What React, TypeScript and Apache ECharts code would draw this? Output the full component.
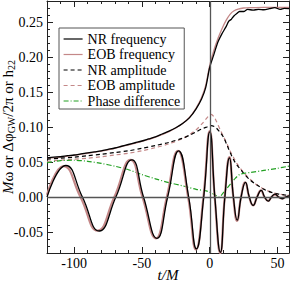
import React, { useEffect, useRef } from "react";
import * as echarts from "echarts";

const legendNames = ["NR frequency", "EOB frequency", "NR amplitude", "EOB amplitude", "Phase difference"];

const xMajorTicks = [-100, -50, 0, 50];
const xMinorTicks = [-110, -100, -90, -80, -70, -60, -50, -40, -30, -20, -10, 0, 10, 20, 30, 40, 50];
const yMajorTicks = [-0.05, 0, 0.05, 0.1, 0.15, 0.2, 0.25];
const yMinorTicks = [
  -0.07, -0.06, -0.05, -0.04, -0.03, -0.02, -0.01, 0, 0.01, 0.02, 0.03, 0.04, 0.05, 0.06, 0.07, 0.08, 0.09,
  0.1, 0.11, 0.12, 0.13, 0.14, 0.15, 0.16, 0.17, 0.18, 0.19, 0.2, 0.21, 0.22, 0.23, 0.24, 0.25, 0.26, 0.27,
];

const freqNR = [
  [-120, 0.056], [-115, 0.057], [-110, 0.0575], [-105, 0.059], [-100, 0.06], [-95, 0.0615], [-90, 0.063],
  [-85, 0.0645], [-80, 0.066], [-75, 0.068], [-70, 0.07], [-65, 0.0725], [-60, 0.075], [-55, 0.0775],
  [-50, 0.08], [-45, 0.083], [-40, 0.086], [-35, 0.09], [-30, 0.094], [-25, 0.099], [-20, 0.105],
  [-15, 0.113], [-10, 0.126], [-6, 0.14], [-3, 0.156], [0, 0.185], [3, 0.203], [6, 0.221], [9, 0.233],
  [12, 0.243], [14, 0.251], [16, 0.254], [18, 0.259], [20, 0.262], [22, 0.265], [25, 0.265], [28, 0.268],
  [32, 0.267], [36, 0.268], [40, 0.2675], [44, 0.269], [48, 0.2705], [52, 0.268], [55, 0.2695], [58.5, 0.269],
];
const freqEOB = [
  [-120, 0.0555], [-110, 0.057], [-100, 0.0595], [-90, 0.0625], [-80, 0.0655], [-70, 0.0695], [-60, 0.0745],
  [-50, 0.0795], [-40, 0.0855], [-30, 0.0935], [-25, 0.0985], [-20, 0.105], [-15, 0.1135], [-10, 0.127],
  [-6, 0.142], [-3, 0.159], [0, 0.188], [3, 0.209], [6, 0.226], [9, 0.24], [12, 0.252], [15, 0.261],
  [18, 0.266], [21, 0.2685], [25, 0.27], [30, 0.2705], [40, 0.271], [50, 0.271], [58.5, 0.271],
];
const ampNR = [
  [-120, 0.054], [-110, 0.0555], [-100, 0.057], [-90, 0.059], [-80, 0.061], [-70, 0.0635], [-60, 0.066],
  [-50, 0.0695], [-40, 0.0735], [-30, 0.078], [-20, 0.084], [-14, 0.089], [-10, 0.093], [-5, 0.098],
  [-2, 0.1], [1, 0.102], [4, 0.1], [7, 0.094], [10, 0.086], [13, 0.073], [15, 0.064], [18, 0.052],
  [20, 0.046], [23, 0.039], [25, 0.034], [30, 0.024], [35, 0.017], [40, 0.011], [45, 0.007], [50, 0.0045],
  [55, 0.003], [58.5, 0.0025],
];
const ampEOB = [
  [-120, 0.051], [-110, 0.0525], [-100, 0.054], [-90, 0.0555], [-80, 0.0575], [-70, 0.06], [-60, 0.0625],
  [-50, 0.066], [-40, 0.0705], [-30, 0.076], [-20, 0.0835], [-15, 0.089], [-10, 0.096], [-5, 0.106],
  [-2, 0.113], [0, 0.117], [1, 0.118], [3, 0.115], [5, 0.108], [8, 0.095], [10, 0.087], [13, 0.075],
  [15, 0.066], [18, 0.055], [20, 0.048], [25, 0.035], [30, 0.025], [35, 0.017], [40, 0.0115], [45, 0.007],
  [50, 0.0045], [55, 0.003], [58.5, 0.0025],
];
const phaseDiff = [
  [-120, 0.049], [-110, 0.052], [-100, 0.0525], [-90, 0.051], [-80, 0.048], [-70, 0.044], [-60, 0.039],
  [-50, 0.032], [-40, 0.026], [-30, 0.0205], [-20, 0.016], [-10, 0.011], [-2, 0.0085], [3, 0.004], [7, 0.0],
  [10, 0.006], [13, 0.013], [16, 0.02], [19, 0.027], [22, 0.032], [26, 0.034], [30, 0.035], [40, 0.038],
  [50, 0.041], [58.5, 0.044],
];
const h22NR = [
  [-120, 0.0], [-106.1, 0.045], [-93.9, 0.0], [-81.5, -0.0486], [-69.2, 0.0], [-57.4, 0.053], [-48.8, 0.0],
  [-38.9, -0.059], [-31.0, 0.0], [-22.9, 0.066], [-15.5, 0.0], [-9.8, -0.074], [-4.4, 0.0], [0.1, 0.093],
  [3.8, 0.0], [7.9, -0.079], [11.2, 0.0], [14.6, 0.056], [17.5, 0.0], [20.3, -0.033], [23.2, 0.0],
  [26.4, 0.021], [29.2, 0.0], [32.1, -0.012], [35.0, 0.0], [38.0, 0.0096], [40.5, 0.0], [43.2, -0.006],
  [45.6, 0.0], [48.2, 0.004], [50.8, 0.0], [53.5, -0.0025], [56.0, 0.0], [58.5, 0.0015],
];
const h22EOB = [
  [-120, 0.003], [-107.8, 0.044], [-95.3, 0.0], [-82.7, -0.048], [-70.3, 0.0], [-58.4, 0.053], [-49.6, 0.0],
  [-39.6, -0.059], [-31.6, 0.0], [-23.4, 0.066], [-15.9, 0.0], [-10.1, -0.075], [-4.6, 0.0], [0.0, 0.094],
  [3.7, 0.0], [7.8, -0.08], [11.1, 0.0], [14.5, 0.057], [17.4, 0.0], [20.2, -0.034], [23.1, 0.0],
  [26.2, 0.021], [29.1, 0.0], [32.0, -0.012], [34.9, 0.0], [37.8, 0.0095], [40.4, 0.0], [43.1, -0.0055],
  [45.6, 0.0], [48.2, 0.0035], [50.8, 0.0], [53.4, -0.002], [56.0, 0.0], [58.5, 0.0012],
];

const SERIF = "Liberation Serif";
const ROSY = "#c48888";
const GREEN = "#22a022";
const XMIN = -120;
const XMAX = 58.5;
const YMIN = -0.08;
const YMAX = 0.28;

function tickAxis(kind: "x" | "y", position: string, values: number[], len: number, showLine: boolean) {
  const base: any = {
    type: "value",
    position,
    min: kind === "x" ? XMIN : YMIN,
    max: kind === "x" ? XMAX : YMAX,
    splitLine: { show: false },
    axisLabel: { show: false },
    axisLine: { show: showLine, onZero: false, lineStyle: { color: "#222", width: 1 } },
    axisTick: { show: true, inside: true, length: len, customValues: values, lineStyle: { color: "#222", width: 1 } },
  };
  return base;
}

export default function App() {
  const ref = useRef<HTMLDivElement>(null);
  useEffect(() => {
    if (!ref.current) return;
    const chart = echarts.init(ref.current, null, { renderer: "svg" });
    const xMain: any = {
      ...tickAxis("x", "bottom", xMajorTicks, 6, true),
      axisLabel: {
        show: true,
        customValues: xMajorTicks,
        fontFamily: SERIF,
        fontSize: 14,
        color: "#000",
        margin: 3,
        formatter: (v: number) => String(v),
      },
      name: "t/M",
      nameLocation: "middle",
      nameGap: 15,
      nameMoveOverlap: false,
      nameTextStyle: { fontFamily: SERIF, fontSize: 15, lineHeight: 13, fontStyle: "italic", color: "#000" },
    };
    const yMain: any = {
      ...tickAxis("y", "left", yMajorTicks, 6, true),
      axisLabel: {
        show: true,
        customValues: yMajorTicks,
        fontFamily: SERIF,
        fontSize: 14,
        color: "#000",
        margin: 4,
        formatter: (v: number) => v.toFixed(2),
      },
      name: "{i|M}ω or Δφ{s|GW}/2π or h{s|22}",
      nameLocation: "middle",
      nameGap: 31,
      nameMoveOverlap: false,
      nameTextStyle: {
        fontFamily: SERIF,
        fontSize: 15,
        color: "#000",
        lineHeight: 17,
        rich: {
          i: { fontFamily: SERIF, fontSize: 15, fontStyle: "italic", color: "#000", lineHeight: 17 },
          s: { fontFamily: SERIF, fontSize: 10, color: "#000", lineHeight: 11, verticalAlign: "bottom" },
        },
      },
    };
    const line = (name: string, data: number[][], color: string, width: number, type: any, smooth: number | boolean) => ({
      type: "line",
      name,
      data,
      xAxisIndex: 0,
      yAxisIndex: 0,
      showSymbol: false,
      symbol: "none",
      smooth,
      lineStyle: { color, width, type },
      itemStyle: { color },
      silent: true,
    });
    const option: any = {
      animation: false,
      backgroundColor: "#fff",
      textStyle: { fontFamily: SERIF },
      grid: { left: 47, right: 2, top: 1, bottom: 28, outerBoundsMode: "none", containLabel: false },
      legend: {
        data: legendNames,
        orient: "vertical",
        left: 59,
        top: 28,
        padding: [4, 4, 1, 4],
        itemWidth: 19,
        itemHeight: 12,
        itemGap: 1.5,
        selectedMode: false,
        borderColor: "#555",
        borderWidth: 1,
        backgroundColor: "#fff",
        itemStyle: { opacity: 0, borderWidth: 0 },
        lineStyle: { width: 1.2 },
        textStyle: { fontFamily: SERIF, fontSize: 14, color: "#000", lineHeight: 14 },
      },
      xAxis: [
        xMain,
        tickAxis("x", "bottom", xMinorTicks, 3, false),
        tickAxis("x", "top", xMajorTicks, 6, true),
        tickAxis("x", "top", xMinorTicks, 3, false),
      ],
      yAxis: [
        yMain,
        tickAxis("y", "left", yMinorTicks, 3, false),
        tickAxis("y", "right", yMajorTicks, 6, true),
        tickAxis("y", "right", yMinorTicks, 3, false),
      ],
      series: [
        {
          ...line("EOB frequency", freqEOB, ROSY, 1.3, "solid", 0.3),
          markLine: {
            silent: true,
            symbol: "none",
            label: { show: false },
            lineStyle: { color: "#555", width: 1.3, type: "solid" },
            data: [{ yAxis: 0 }, { xAxis: 0.5 }],
          },
        },
        line("NR frequency", freqNR, "#000", 1.3, "solid", 0.3),
        line("EOB amplitude", ampEOB, ROSY, 1.2, [4, 3], 0.3),
        line("NR amplitude", ampNR, "#000", 1.2, [4, 3], 0.3),
        line("Phase difference", phaseDiff, GREEN, 1.2, [5, 2, 1, 2], 0.3),
        line("EOB h22", h22EOB, ROSY, 2.2, "solid", true),
        line("NR h22", h22NR, "#000", 1.3, "solid", true),
      ],
    };
    chart.setOption(option);
    return () => chart.dispose();
  }, []);
  return <div ref={ref} style={{ position: "absolute", left: 0, top: 0, width: 291, height: 281 }} />;
}
